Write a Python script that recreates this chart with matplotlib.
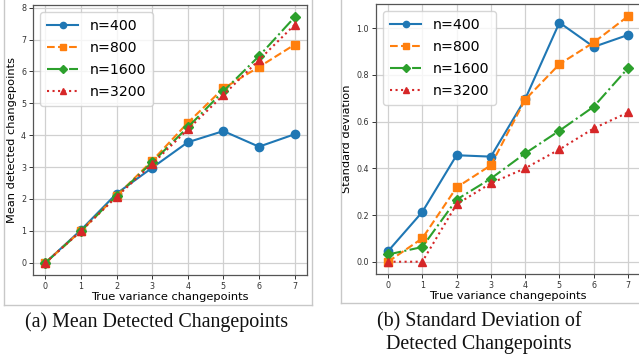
import matplotlib.pyplot as plt
from matplotlib.lines import Line2D

W, H = 639, 358

# --- data ---
true_cp = [0, 1, 2, 3, 4, 5, 6, 7]
labels = ['n=400', 'n=800', 'n=1600', 'n=3200']

mean_400 = [0.0, 1.03, 2.17, 2.98, 3.78, 4.13, 3.64, 4.03]
mean_800 = [0.0, 1.0, 2.1, 3.2, 4.39, 5.47, 6.14, 6.84]
mean_1600 = [0.0, 1.0, 2.1, 3.15, 4.25, 5.38, 6.48, 7.7]
mean_3200 = [0.0, 1.0, 2.07, 3.1, 4.18, 5.26, 6.36, 7.46]

std_400 = [0.045, 0.213, 0.456, 0.45, 0.696, 1.024, 0.92, 0.971]
std_800 = [0.0, 0.1, 0.318, 0.413, 0.694, 0.846, 0.939, 1.051]
std_1600 = [0.031, 0.063, 0.266, 0.356, 0.464, 0.561, 0.664, 0.829]
std_3200 = [0.0, 0.0, 0.246, 0.336, 0.4, 0.481, 0.571, 0.639]

styles = [('#1f77b4', '-', 'o'), ('#ff7f0e', '--', 's'),
          ('#2ca02c', '-.', 'D'), ('#d62728', ':', '^')]


def px_axes(fig, left, top, right, bottom):
    return fig.add_axes([left / W, 1 - bottom / H, (right - left) / W, (bottom - top) / H])


def draw_panel(ax, series, ylabel):
    for vals, lab, (c, ls, m) in zip(series, labels, styles):
        ax.plot(true_cp, vals, color=c, linestyle=ls, marker=m, markersize=6 if m != 'D' else 5.5,
                linewidth=1.5, label=lab)
    ax.grid(True, color='#d0d0d0', linewidth=0.9)
    ax.set_axisbelow(True)
    ax.tick_params(labelsize=5.8, length=3, width=0.7, pad=2, colors='#333333')
    for s in ax.spines.values():
        s.set_color('#555555')
        s.set_linewidth(0.9)
    ax.set_xlabel('True variance changepoints', fontsize=8.2, labelpad=1)
    ax.set_ylabel(ylabel, fontsize=8.2, labelpad=3)
    ax.legend(loc='upper left', fontsize=10.2, handlelength=2.2, borderpad=0.5,
              labelspacing=0.55, handletextpad=0.8, markerscale=0.75, framealpha=0.8)


fig = plt.figure(figsize=(W / 100, H / 100), dpi=100)

ax1 = px_axes(fig, 33, 5, 307, 275)
draw_panel(ax1, [mean_400, mean_800, mean_1600, mean_3200], 'Mean detected changepoints')

ax2 = px_axes(fig, 376, 4, 640, 274)
draw_panel(ax2, [std_400, std_800, std_1600, std_3200], 'Standard deviation')

# screenshot borders
border = '#c8c8c8'
for xs, ys in [([4, 4], [0, 305]), ([4, 312], [305, 305]), ([312, 312], [0, 305]),
               ([341, 341], [0, 303]), ([341, 639], [303, 303])]:
    fig.add_artist(Line2D([x / W for x in xs], [1 - y / H for y in ys], color=border, linewidth=1))

# captions
cap = dict(family='Liberation Serif', fontsize=14.4, ha='center', va='center', color='#111111')
fig.text(157 / W, 1 - 322 / H, '(a) Mean Detected Changepoints', **cap)
fig.text(479 / W, 1 - 322 / H, '(b) Standard Deviation of', **cap)
fig.text(479 / W, 1 - 345 / H, 'Detected Changepoints', **cap)

fig.savefig('out.png', dpi=100)
